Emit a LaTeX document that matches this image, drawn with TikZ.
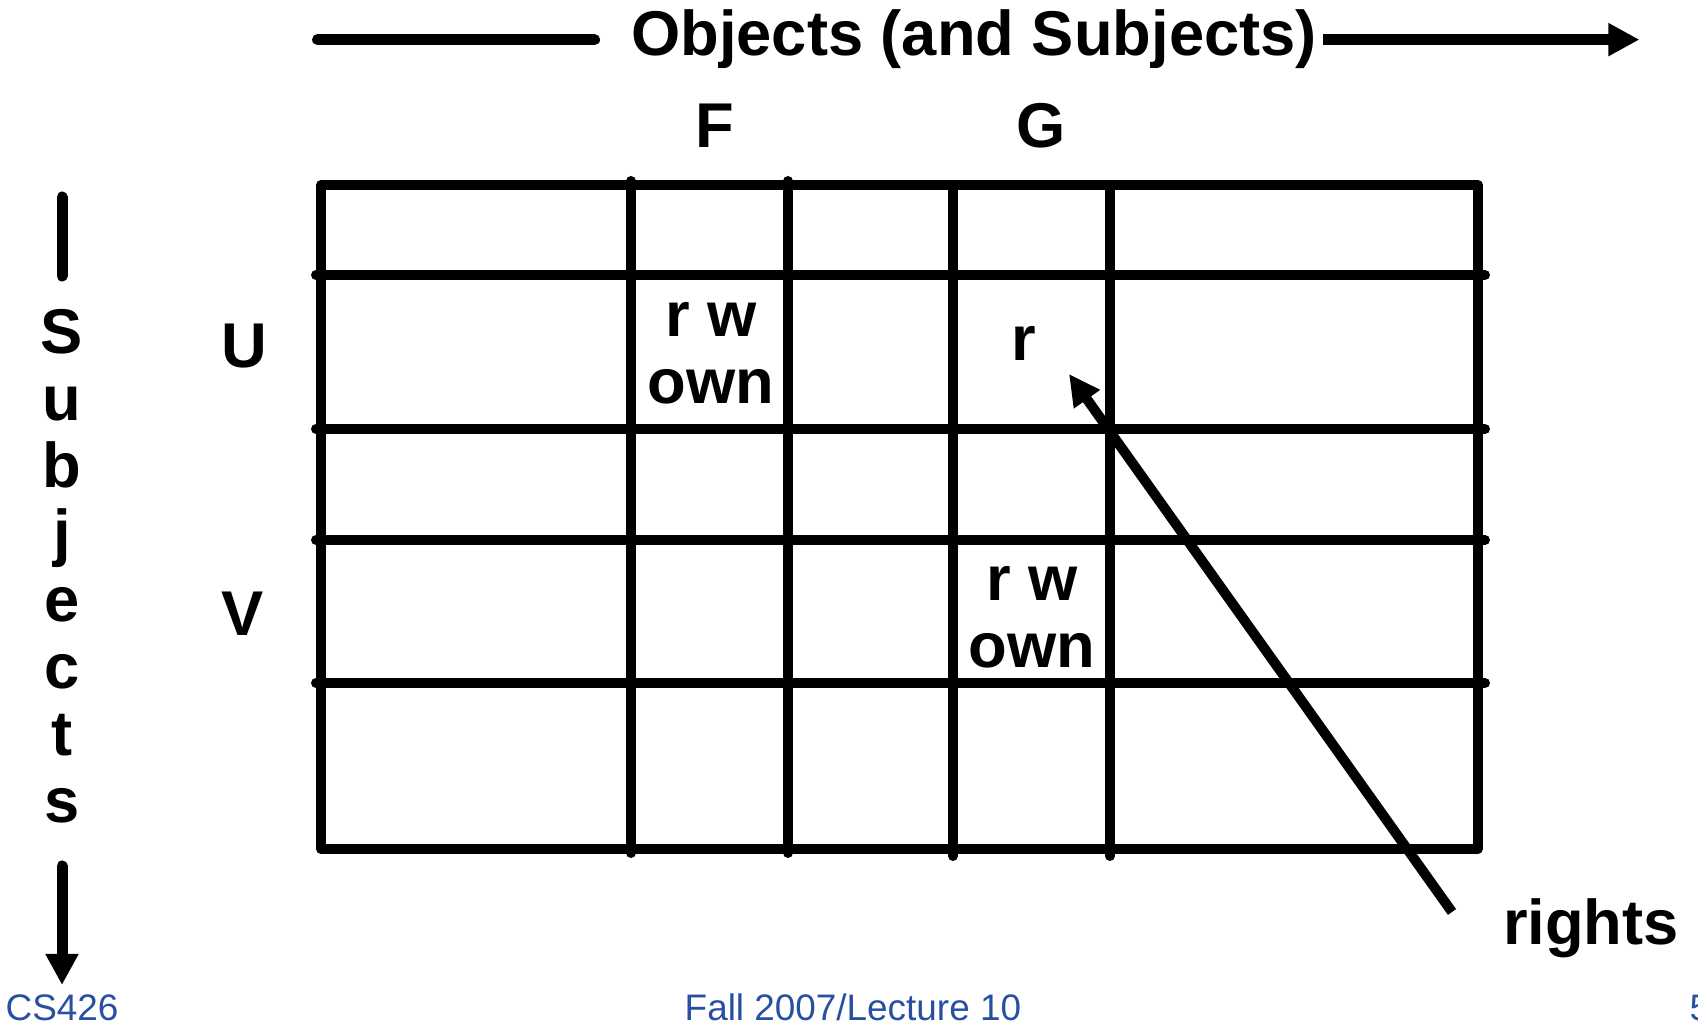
\documentclass[tikz,border=0pt]{standalone}
\usepackage{fontspec}
\setmainfont{Liberation Sans}
\usetikzlibrary{arrows.meta}
\definecolor{footBlue}{RGB}{40,80,160}
\tikzset{
  gridline/.style={line width=1mm, line cap=round, line join=round},
  axisline/.style={line width=1.1mm, line cap=round},
  axisarrow/.style={line width=1.1mm, -{Triangle[length=3.1mm, width=3.1mm]}},
  ptr/.style={line width=1mm, -{Triangle[length=3.1mm, width=3mm]}},
  lbl/.style={inner sep=0pt, font=\fontsize{18}{19}\selectfont\bfseries},
  cell/.style={lbl, align=center},
  foot/.style={inner sep=0pt, anchor=base west, text=footBlue,
               font=\fontsize{10.5}{12}\selectfont},
}

\begin{document}
\begin{tikzpicture}[x=0.1mm, y=-0.1mm]
  \useasboundingbox (0,0) rectangle (1698,1025);
  \clip (0,0) rectangle (1698,1025);
  % access matrix
  \draw[gridline] (321,185) rectangle (1478,849);
  \foreach \yy in {275,429,540,683}
    \draw[gridline] (316,\yy) -- (1485,\yy);
  \foreach \xx in {631,788}
    \draw[gridline] (\xx,181) -- (\xx,853);
  \foreach \xx in {953,1110}
    \draw[gridline] (\xx,185) -- (\xx,856);
  % column and row headers
  \node[lbl, anchor=base] (colF) at (715,148) {F};
  \node[lbl, anchor=base] (colG) at (1041,148) {G};
  \node[lbl, anchor=base] (rowU) at (244,368) {U};
  \node[lbl, anchor=base] (rowV) at (243,636) {V};
  % entries
  \node[cell, anchor=south] (uf) at (711,405) {r w\\own};
  \node[lbl, anchor=base] (ug) at (1024,361) {r};
  \node[cell, anchor=south] (vg) at (1032,669) {r w\\own};
  % objects axis
  \node[lbl, anchor=base] (objs) at (974,56) {Objects (and Subjects)};
  \draw[axisline] ([xshift=-0.36cm]objs.west) -- ++(-277,0);
  \draw[axisarrow] ([xshift=0.06cm]objs.east) -- ++(316,0);
  % subjects axis
  \foreach \ch [count=\k] in {S,u,b,j,e,c,t,s}
    \node[lbl, anchor=base] (subj\k) at (62,{287+67*\k}) {\ch};
  \coordinate (subjtop) at (62,197);
  \coordinate (subjbot) at (62,866);
  \draw[axisline] (subjtop) -- ++(0,79);
  \draw[axisarrow, line cap=round] (subjbot) -- ++(0,119);
  % pointer to the rights entry
  \coordinate (rtail) at (1452,912);
  \coordinate (rhead) at (1069,374);
  \draw[ptr] (rtail) -- (rhead);
  \node[lbl, anchor=base] (rights) at (1591,945) {rights};
  % footer
  \node[foot] (course) at (5,1021) {CS426};
  \node[foot] (lecture) at (684,1021) {Fall 2007/Lecture 10};
  \node[foot] (pageno) at (1689,1021) {5};
\end{tikzpicture}
\end{document}
